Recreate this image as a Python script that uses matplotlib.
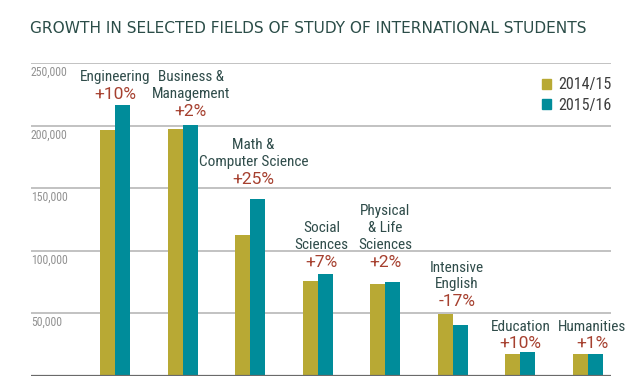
import matplotlib
matplotlib.use("Agg")
import matplotlib.pyplot as plt
from matplotlib import font_manager
from matplotlib.patches import Patch
import numpy as np

fields = ["Engineering", "Business &\nManagement", "Math &\nComputer Science",
          "Social\nSciences", "Physical\n& Life\nSciences", "Intensive\nEnglish",
          "Education", "Humanities"]
students_1415 = [196800, 197300, 112900, 75900, 73500, 49300, 17300, 17300]
students_1516 = [216900, 200300, 141400, 81200, 75300, 40500, 19200, 17400]
growth = ["+10%", "+2%", "+25%", "+7%", "+2%", "-17%", "+10%", "+1%"]
years = ["2014/15", "2015/16"]
yticks = [50000, 100000, 150000, 200000, 250000]

# where the growth figure sits (data units), picked by eye from the original
label_y = [225000, 211700, 157300, 91000, 91000, 59300, 25600, 25600]
label_dx = [0.0, 0.12, 0.05, 0.06, 0.0, 0.06, 0.0, 0.06]

GOLD = "#b8a934"
TEAL = "#008c9a"
RED = "#a6402f"
SLATE = "#2f4c4a"


def pick_font(names):
    have = {f.name for f in font_manager.fontManager.ttflist}
    for n in names:
        if n in have:
            return n
    return "DejaVu Sans"


narrow = pick_font(["Roboto Condensed", "Liberation Sans Narrow", "Open Sans Condensed"])
plain = pick_font(["Roboto", "Lato"])

fig = plt.figure(figsize=(6.4, 3.9), dpi=100)
ax = fig.add_axes([0.0484, 0.0359, 0.9063, 0.8018])

x = np.arange(len(fields))
w = 0.2226
ax.bar(x - w / 2, students_1415, w, color=GOLD, zorder=3)
ax.bar(x + w / 2, students_1516, w, color=TEAL, zorder=3)

ax.set_xlim(-1.243, 7.34)
ax.set_ylim(0, 250000)

for v in yticks:
    ax.axhline(v, color="#b8b8b8", lw=1.2, zorder=1)
    ax.annotate(f"{v:,}", xy=(0, v), xycoords=("axes fraction", "data"),
                xytext=(0, -6.5), textcoords="offset points", ha="left", va="center",
                fontsize=8.5, color="#929292", family=[narrow, "DejaVu Sans"])
ax.axhline(0, color="#6a6a6a", lw=1.6, zorder=4)

for i, (name, g, ly) in enumerate(zip(fields, growth, label_y)):
    xc = i + label_dx[i]
    ax.text(xc, ly, g, ha="center", va="center", fontsize=12.5, color=RED,
            family=[plain, "DejaVu Sans"])
    ax.annotate(name, xy=(xc, ly), xytext=(0, 7.5), textcoords="offset points",
                ha="center", va="bottom", fontsize=11, color=SLATE, linespacing=1.25,
                family=[narrow, "DejaVu Sans"])

ax.set_xticks([])
ax.set_yticks([])
for s in ax.spines.values():
    s.set_visible(False)

handles = [Patch(color=GOLD), Patch(color=TEAL)]
leg = ax.legend(handles, years, loc="upper right", bbox_to_anchor=(1.0, 0.955),
                frameon=False, borderpad=0, borderaxespad=0, handlelength=0.6,
                handleheight=0.6, handletextpad=0.4, labelspacing=0.35,
                prop={"family": narrow, "size": 11.5})
for t in leg.get_texts():
    t.set_color("#3d3d3d")

fig.text(0.047, 1 - 28.5 / 390, "GROWTH IN SELECTED FIELDS OF STUDY OF INTERNATIONAL STUDENTS",
         ha="left", va="center", fontsize=11.1, color="#2b4d48", fontweight="medium")

fig.savefig("out.png", dpi=100)
